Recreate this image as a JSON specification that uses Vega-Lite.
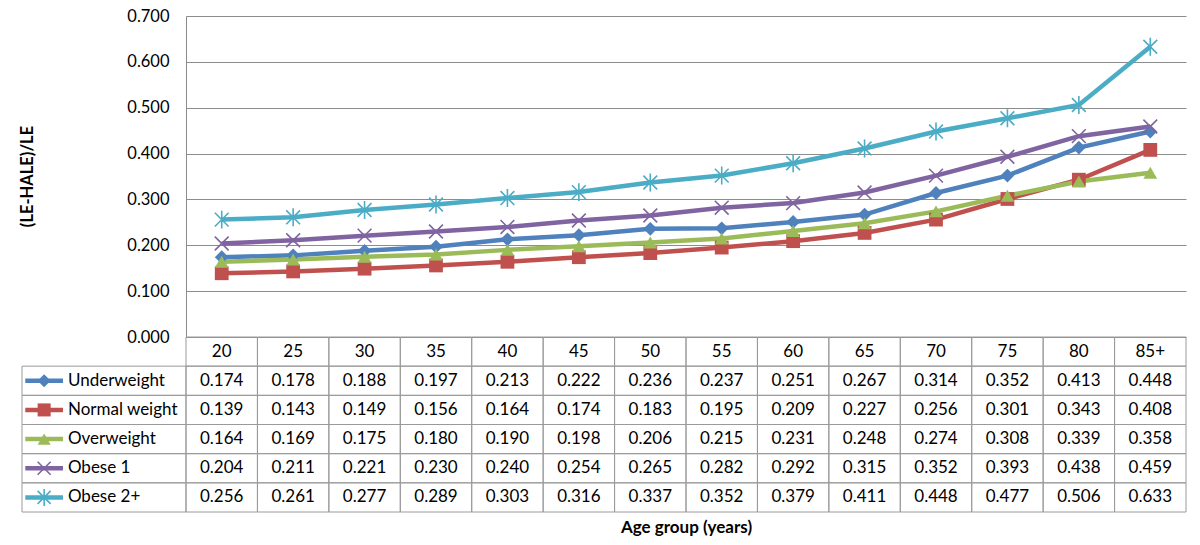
{
  "$schema": "https://vega.github.io/schema/vega-lite/v6.json",
  "width": 1000,
  "height": 496,
  "autosize": "none",
  "padding": {"left": 186, "top": 16, "right": 14, "bottom": 33},
  "background": "white",
  "config": {"font": "Lato", "view": {"stroke": null}},
  "datasets": {
    "cells": [
      {"age": "20", "series": "Underweight", "value": 0.174},
      {"age": "25", "series": "Underweight", "value": 0.178},
      {"age": "30", "series": "Underweight", "value": 0.188},
      {"age": "35", "series": "Underweight", "value": 0.197},
      {"age": "40", "series": "Underweight", "value": 0.213},
      {"age": "45", "series": "Underweight", "value": 0.222},
      {"age": "50", "series": "Underweight", "value": 0.236},
      {"age": "55", "series": "Underweight", "value": 0.237},
      {"age": "60", "series": "Underweight", "value": 0.251},
      {"age": "65", "series": "Underweight", "value": 0.267},
      {"age": "70", "series": "Underweight", "value": 0.314},
      {"age": "75", "series": "Underweight", "value": 0.352},
      {"age": "80", "series": "Underweight", "value": 0.413},
      {"age": "85+", "series": "Underweight", "value": 0.448},
      {"age": "20", "series": "Normal weight", "value": 0.139},
      {"age": "25", "series": "Normal weight", "value": 0.143},
      {"age": "30", "series": "Normal weight", "value": 0.149},
      {"age": "35", "series": "Normal weight", "value": 0.156},
      {"age": "40", "series": "Normal weight", "value": 0.164},
      {"age": "45", "series": "Normal weight", "value": 0.174},
      {"age": "50", "series": "Normal weight", "value": 0.183},
      {"age": "55", "series": "Normal weight", "value": 0.195},
      {"age": "60", "series": "Normal weight", "value": 0.209},
      {"age": "65", "series": "Normal weight", "value": 0.227},
      {"age": "70", "series": "Normal weight", "value": 0.256},
      {"age": "75", "series": "Normal weight", "value": 0.301},
      {"age": "80", "series": "Normal weight", "value": 0.343},
      {"age": "85+", "series": "Normal weight", "value": 0.408},
      {"age": "20", "series": "Overweight", "value": 0.164},
      {"age": "25", "series": "Overweight", "value": 0.169},
      {"age": "30", "series": "Overweight", "value": 0.175},
      {"age": "35", "series": "Overweight", "value": 0.180},
      {"age": "40", "series": "Overweight", "value": 0.190},
      {"age": "45", "series": "Overweight", "value": 0.198},
      {"age": "50", "series": "Overweight", "value": 0.206},
      {"age": "55", "series": "Overweight", "value": 0.215},
      {"age": "60", "series": "Overweight", "value": 0.231},
      {"age": "65", "series": "Overweight", "value": 0.248},
      {"age": "70", "series": "Overweight", "value": 0.274},
      {"age": "75", "series": "Overweight", "value": 0.308},
      {"age": "80", "series": "Overweight", "value": 0.339},
      {"age": "85+", "series": "Overweight", "value": 0.358},
      {"age": "20", "series": "Obese 1", "value": 0.204},
      {"age": "25", "series": "Obese 1", "value": 0.211},
      {"age": "30", "series": "Obese 1", "value": 0.221},
      {"age": "35", "series": "Obese 1", "value": 0.230},
      {"age": "40", "series": "Obese 1", "value": 0.240},
      {"age": "45", "series": "Obese 1", "value": 0.254},
      {"age": "50", "series": "Obese 1", "value": 0.265},
      {"age": "55", "series": "Obese 1", "value": 0.282},
      {"age": "60", "series": "Obese 1", "value": 0.292},
      {"age": "65", "series": "Obese 1", "value": 0.315},
      {"age": "70", "series": "Obese 1", "value": 0.352},
      {"age": "75", "series": "Obese 1", "value": 0.393},
      {"age": "80", "series": "Obese 1", "value": 0.438},
      {"age": "85+", "series": "Obese 1", "value": 0.459},
      {"age": "20", "series": "Obese 2+", "value": 0.256},
      {"age": "25", "series": "Obese 2+", "value": 0.261},
      {"age": "30", "series": "Obese 2+", "value": 0.277},
      {"age": "35", "series": "Obese 2+", "value": 0.289},
      {"age": "40", "series": "Obese 2+", "value": 0.303},
      {"age": "45", "series": "Obese 2+", "value": 0.316},
      {"age": "50", "series": "Obese 2+", "value": 0.337},
      {"age": "55", "series": "Obese 2+", "value": 0.352},
      {"age": "60", "series": "Obese 2+", "value": 0.379},
      {"age": "65", "series": "Obese 2+", "value": 0.411},
      {"age": "70", "series": "Obese 2+", "value": 0.448},
      {"age": "75", "series": "Obese 2+", "value": 0.477},
      {"age": "80", "series": "Obese 2+", "value": 0.506},
      {"age": "85+", "series": "Obese 2+", "value": 0.633}
    ]
  },
  "data": {"name": "cells"},
  "resolve": {"scale": {"x": "independent", "y": "independent"}},
  "layer": [
    {
      "encoding": {
        "x": {
          "field": "age", "type": "ordinal", "bandPosition": 0.5,
          "scale": {"type": "band", "domain": ["20","25","30","35","40","45","50","55","60","65","70","75","80","85+"], "paddingInner": 0, "paddingOuter": 0},
          "axis": {"title": "Age group (years)", "labels": false, "ticks": false, "domain": false, "grid": false, "titleFontSize": 17, "titleFontWeight": "bold", "titleColor": "black", "titlePadding": 7, "titleFont": "Lato"}
        },
        "y": {
          "field": "value", "type": "quantitative",
          "scale": {"domain": [0, 0.7], "range": [321, 0], "nice": false, "zero": true},
          "axis": {
            "title": "(LE-HALE)/LE", "values": [0, 0.1, 0.2, 0.3, 0.4, 0.5, 0.6, 0.7], "format": ".3f",
            "grid": true, "gridColor": "#8c8c8c", "gridWidth": 1, "ticks": false, "domainColor": "#8c8c8c",
            "labelFontSize": 16.5, "labelColor": "black", "labelPadding": 17, "labelFont": "Lato",
            "titleFontSize": 16.5, "titleFontWeight": "bold", "titleColor": "black", "titleFont": "Lato",
            "titleX": -159, "titleY": 160, "titleAngle": -90, "titleAlign": "center", "titleBaseline": "middle"
          }
        },
        "color": {
          "field": "series", "type": "nominal", "legend": null,
          "scale": {"domain": ["Underweight","Normal weight","Overweight","Obese 1","Obese 2+"], "range": ["#4F81BD","#C0504D","#9BBB59","#8064A2","#4BACC6"]}
        }
      },
      "layer": [
        {"mark": {"type": "line", "strokeWidth": 4.5}},
        {
          "transform": [{"filter": "datum.series === 'Underweight' || datum.series === 'Normal weight' || datum.series === 'Overweight'"}],
          "mark": {"type": "point", "filled": true, "opacity": 1, "size": 190},
          "encoding": {
            "shape": {"field": "series", "type": "nominal", "legend": null,
              "scale": {"domain": ["Underweight","Normal weight","Overweight","Obese 1","Obese 2+"], "range": ["diamond","square","triangle-up","M-1,-1L1,1M-1,1L1,-1","M-1,-1L1,1M-1,1L1,-1M0,-1.3L0,1.3"]}}
          }
        },
        {
          "transform": [{"filter": "datum.series === 'Obese 1' || datum.series === 'Obese 2+'"}],
          "mark": {"type": "point", "filled": false, "opacity": 1, "size": 190, "strokeWidth": 1.6},
          "encoding": {
            "shape": {"field": "series", "type": "nominal", "legend": null}
          }
        }
      ]
    },
    {
      "encoding": {
        "x": {
          "field": "age", "type": "ordinal", "axis": null,
          "scale": {"type": "band", "domain": ["20","25","30","35","40","45","50","55","60","65","70","75","80","85+"], "paddingInner": 0, "paddingOuter": 0}
        }
      },
      "layer": [
        {
          "mark": {"type": "rect", "fillOpacity": 0, "stroke": "#9a9a9a", "strokeWidth": 1},
          "encoding": {
            "y": {"field": "series", "type": "nominal", "axis": null,
              "scale": {"type": "band", "domain": ["header","Underweight","Normal weight","Overweight","Obese 1","Obese 2+"], "range": [321, 496], "paddingInner": 0, "paddingOuter": 0}}
          }
        },
        {
          "transform": [{"filter": "datum.series === 'Underweight'"}],
          "mark": {"type": "rect", "fillOpacity": 0, "stroke": "#9a9a9a", "strokeWidth": 1},
          "encoding": {
            "y": {"datum": "header", "type": "nominal", "axis": null}
          }
        },
        {
          "mark": {"type": "text", "fontSize": 17, "color": "black", "font": "Lato", "baseline": "middle", "align": "center"},
          "encoding": {
            "x": {"field": "age", "type": "ordinal", "bandPosition": 0.5},
            "y": {"field": "series", "type": "nominal", "bandPosition": 0.5},
            "text": {"field": "value", "type": "quantitative", "format": ".3f"}
          }
        },
        {
          "transform": [{"filter": "datum.series === 'Underweight'"}],
          "mark": {"type": "text", "fontSize": 17, "color": "black", "font": "Lato", "baseline": "middle", "align": "center"},
          "encoding": {
            "x": {"field": "age", "type": "ordinal", "bandPosition": 0.5},
            "y": {"datum": "header", "type": "nominal", "bandPosition": 0.5},
            "text": {"field": "age", "type": "nominal"}
          }
        }
      ]
    },
    {
      "transform": [{"filter": "datum.age === '20'"}],
      "encoding": {
        "y": {"field": "series", "type": "nominal", "axis": null,
          "scale": {"type": "band", "domain": ["header","Underweight","Normal weight","Overweight","Obese 1","Obese 2+"], "range": [321, 496], "paddingInner": 0, "paddingOuter": 0}},
        "color": {"field": "series", "type": "nominal", "legend": null}
      },
      "layer": [
        {
          "mark": {"type": "rect", "fillOpacity": 0, "stroke": "#9a9a9a", "strokeWidth": 1, "color": "#9a9a9a"},
          "encoding": {
            "x": {"datum": 0, "type": "quantitative", "axis": null, "scale": {"domain": [0, 1], "range": [-164, 0], "nice": false, "zero": false}},
            "x2": {"datum": 1},
            "color": {"value": "#9a9a9a"}
          }
        },
        {
          "mark": {"type": "rule", "strokeWidth": 4.5},
          "encoding": {
            "x": {"datum": 0.02, "type": "quantitative"},
            "x2": {"datum": 0.25},
            "y": {"field": "series", "type": "nominal", "bandPosition": 0.5}
          }
        },
        {
          "transform": [{"filter": "datum.series === 'Underweight' || datum.series === 'Normal weight' || datum.series === 'Overweight'"}],
          "mark": {"type": "point", "filled": true, "opacity": 1, "size": 170},
          "encoding": {
            "x": {"datum": 0.135, "type": "quantitative"},
            "y": {"field": "series", "type": "nominal", "bandPosition": 0.5},
            "shape": {"field": "series", "type": "nominal", "legend": null}
          }
        },
        {
          "transform": [{"filter": "datum.series === 'Obese 1' || datum.series === 'Obese 2+'"}],
          "mark": {"type": "point", "filled": false, "opacity": 1, "size": 170, "strokeWidth": 1.6},
          "encoding": {
            "x": {"datum": 0.135, "type": "quantitative"},
            "y": {"field": "series", "type": "nominal", "bandPosition": 0.5},
            "shape": {"field": "series", "type": "nominal", "legend": null}
          }
        },
        {
          "mark": {"type": "text", "fontSize": 17, "font": "Lato", "align": "left", "baseline": "middle"},
          "encoding": {
            "x": {"datum": 0.28, "type": "quantitative"},
            "y": {"field": "series", "type": "nominal", "bandPosition": 0.5},
            "text": {"field": "series", "type": "nominal"},
            "color": {"value": "black"}
          }
        }
      ]
    }
  ]
}
